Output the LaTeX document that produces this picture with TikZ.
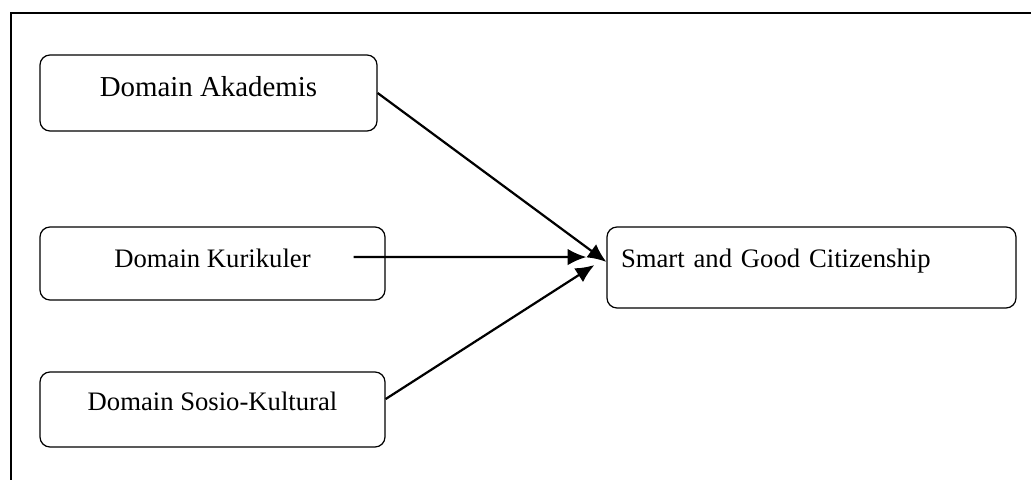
\documentclass[tikz,border=0pt]{standalone}
\usepackage{fontspec}
\setmainfont{Liberation Serif}
\usepackage{tikz}
\usetikzlibrary{arrows.meta}

\begin{document}
\begin{tikzpicture}[x=0.45pt,y=-0.45pt,
    kotak/.style={draw,line width=0.55pt,rounded corners=4.5pt,inner sep=0pt,font=\fontsize{12}{14}\selectfont,text height=8.5pt},
    panah/.style={line width=1pt,-{Latex[length=8.4pt,width=7.4pt]}}]
    \useasboundingbox (0,0) rectangle (1031,480);
    \draw[line width=0.6pt] (1031,13) -- (11,13) -- (11,480);
    \node[kotak,minimum width=151.65pt,minimum height=34.2pt,font=\fontsize{13}{15}\selectfont,text height=9pt,text depth=5.4pt] (aka) at (208.5,93) {Domain Akademis};
    \node[kotak,minimum width=155.25pt,minimum height=32.85pt,text depth=5.35pt] (kur) at (212.5,263.5) {Domain Kurikuler};
    \node[kotak,minimum width=155.25pt,minimum height=33.75pt,text depth=8.05pt] (sos) at (212.5,409.5) {Domain Sosio-Kultural};
    \node[kotak,minimum width=184.05pt,minimum height=36.45pt,inner xsep=6.3pt,text width=171.45pt,align=left,text depth=8.95pt] (sgc) at (811.5,267.5) {Smart and Good Citizenship};
    \draw[panah] (aka.east) -- ([yshift=2.5pt]sgc.west);
    \draw[panah] ([xshift=-14.4pt,yshift=2.9pt]kur.east) -- ([xshift=-9pt,yshift=4.7pt]sgc.west);
    \draw[panah] ([yshift=4.7pt]sos.east) -- ([xshift=-5.4pt,yshift=1.1pt]sgc.west);
\end{tikzpicture}
\end{document}
